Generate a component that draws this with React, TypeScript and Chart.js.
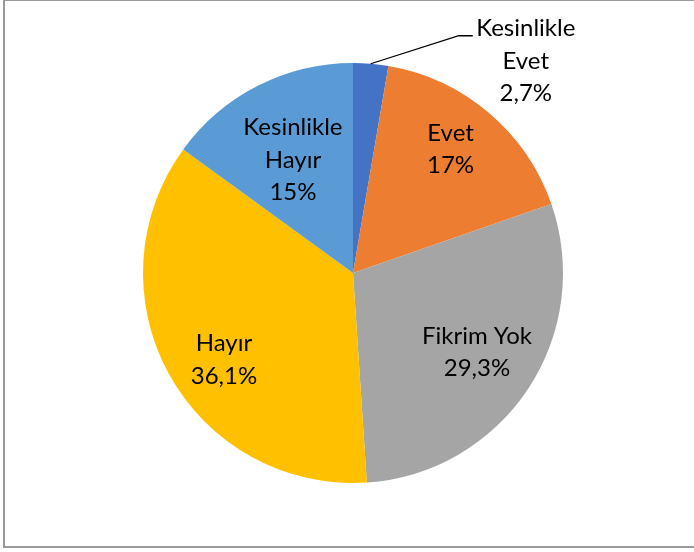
import React, { useEffect, useRef } from "react";
import { Chart, registerables } from "chart.js";

Chart.register(...registerables);

const categories = ["Kesinlikle Evet", "Evet", "Fikrim Yok", "Hayır", "Kesinlikle Hayır"];
const labelLines = [["Kesinlikle", "Evet"], ["Evet"], ["Fikrim Yok"], ["Hayır"], ["Kesinlikle", "Hayır"]];
const values = [2.7, 17, 29.3, 36.1, 15];
const valueLabels = ["2,7%", "17%", "29,3%", "36,1%", "15%"];
const colors = ["#4472C4", "#ED7D31", "#A5A5A5", "#FFC000", "#5B9BD5"];

// label placement style: radius fraction for inside labels (null => callout outside), angle nudge in degrees
const labelRadius = [null, 0.75, 0.7, 0.74, 0.61];
const labelAngleNudge = [0, -2, -1, -5, -1];

const FONT = "24px Lato, 'Open Sans', sans-serif";
const LINE_H = 32.5;

const labelPlugin = {
  id: "pieLabels",
  afterDatasetsDraw(chart: any) {
    const ctx = chart.ctx;
    const meta = chart.getDatasetMeta(0);
    ctx.save();
    ctx.font = FONT;
    ctx.fillStyle = "#000";
    ctx.textAlign = "center";
    ctx.textBaseline = "middle";
    meta.data.forEach((arc: any, i: number) => {
      const { x, y, startAngle, endAngle, outerRadius } = arc.getProps(
        ["x", "y", "startAngle", "endAngle", "outerRadius"],
        true
      );
      const mid = (startAngle + endAngle) / 2;
      const lines = [...labelLines[i], valueLabels[i]];
      const frac = labelRadius[i];
      if (frac != null) {
        const a = mid + (labelAngleNudge[i] * Math.PI) / 180;
        const cx = x + Math.cos(a) * outerRadius * frac;
        const cy = y + Math.sin(a) * outerRadius * frac;
        const top = cy - ((lines.length - 1) * LINE_H) / 2;
        lines.forEach((t, k) => ctx.fillText(t, cx, top + k * LINE_H));
      } else {
        // callout label outside the pie
        const ex = x + Math.cos(mid) * outerRadius;
        const ey = y + Math.sin(mid) * outerRadius;
        const elbowX = ex + 88;
        const elbowY = ey - 28;
        const endX = elbowX + 14;
        ctx.strokeStyle = "#000";
        ctx.lineWidth = 1.3;
        ctx.beginPath();
        ctx.moveTo(ex, ey);
        ctx.lineTo(elbowX, elbowY);
        ctx.lineTo(endX, elbowY);
        ctx.stroke();
        const tx = endX + 53;
        const top = elbowY - 7;
        lines.forEach((t, k) => ctx.fillText(t, tx, top + k * LINE_H));
      }
    });
    ctx.restore();
  },
};

export default function App() {
  const ref = useRef<HTMLCanvasElement>(null);
  useEffect(() => {
    if (!ref.current) return;
    const chart = new Chart(ref.current, {
      type: "pie",
      data: {
        labels: categories,
        datasets: [
          {
            data: values,
            backgroundColor: colors,
            borderWidth: 0,
          },
        ],
      },
      options: {
        animation: false,
        responsive: false,
        devicePixelRatio: 1,
        layout: { padding: { left: 143, right: 131, top: 63, bottom: 69 } },
        plugins: {
          legend: { display: false },
          tooltip: { enabled: false },
        },
      },
      plugins: [labelPlugin],
    });
    return () => chart.destroy();
  }, []);

  return (
    <div style={{ position: "fixed", left: 0, top: 0, width: 694, height: 552, background: "#fff", overflow: "hidden" }}>
      <div
        style={{
          position: "absolute",
          left: 3,
          top: -1,
          width: 720,
          height: 549,
          border: "2px solid #9a9a9a",
          boxSizing: "border-box",
        }}
      />
      <canvas ref={ref} width={694} height={552} style={{ position: "absolute", left: 0, top: 0 }} />
    </div>
  );
}
